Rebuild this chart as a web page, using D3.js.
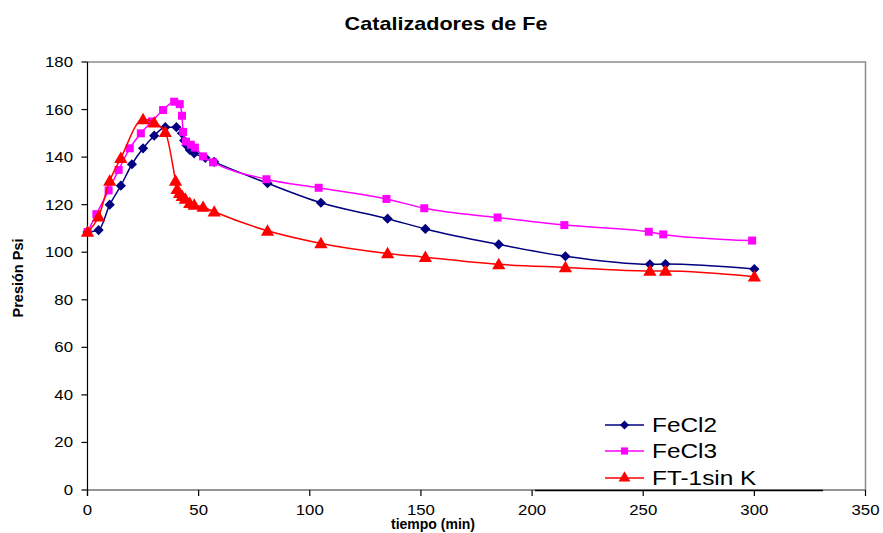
<!DOCTYPE html>
<html>
<head>
<meta charset="utf-8">
<script src="https://cdn.jsdelivr.net/npm/d3@7"></script>
<style>
  html, body { margin: 0; padding: 0; background: #fff; }
  svg { display: block; font-family: Arial, "Liberation Sans", sans-serif; }
</style>
</head>
<body>
<svg id="chart" width="883" height="533"></svg>
<script>
// Pressure (psi) over time (min) for three Fe catalysts
const seriesNames = ["FeCl2", "FeCl3", "FT-1sin K"];

const fecl2Time  = [0, 5, 10, 15, 20, 25, 30, 35, 40, 42.5, 43.5, 44.5, 46, 48, 53, 57, 81, 105, 135, 152, 185, 215, 253, 260, 300];
const fecl2Pres  = [108.5, 109.3, 120, 128, 137, 143.7, 149, 152.6, 152.6, 150, 147, 145, 143, 141.6, 139.7, 138, 129, 120.8, 114.1, 109.8, 103.3, 98.3, 94.9, 95, 92.9];

const fecl3Time  = [0, 4, 9.5, 14, 19, 24, 29, 34, 39, 41.5, 42.5, 43, 44.3, 46.5, 48.3, 52, 56.5, 80.5, 104, 134.5, 151.5, 184.5, 214.5, 252.5, 259, 299];
const fecl3Pres  = [108.5, 116, 126, 134.6, 143.7, 150, 155, 159.8, 163.3, 162.3, 157.4, 150.6, 146.5, 145.2, 144, 140.3, 137.8, 130.7, 127.1, 122.4, 118.5, 114.6, 111.4, 108.6, 107.5, 104.9];

const ft1Time    = [0, 5, 10, 15, 25, 30, 35, 39.6, 40.3, 41.4, 42.6, 44, 46, 48, 52, 57, 81, 105, 135, 152, 185, 215, 253, 260, 300];
const ft1Pres    = [108.5, 115, 130, 139.6, 155.9, 154.5, 150.5, 130, 126.5, 124.8, 123.6, 122.4, 120.6, 119.9, 119, 117, 109, 103.7, 99.5, 97.9, 94.9, 93.6, 92.1, 92.1, 89.7];

const xTicks = [0, 50, 100, 150, 200, 250, 300, 350];
const yTicks = [0, 20, 40, 60, 80, 100, 120, 140, 160, 180];

const colors  = ["#000080", "#ff00ff", "#ff0000"];
const symbols = [d3.symbolDiamond2, d3.symbolSquare, d3.symbolTriangle];
const symSize = [66, 64, 76];

const series = [
  fecl2Time.map((t, i) => ({ t, p: fecl2Pres[i] })),
  fecl3Time.map((t, i) => ({ t, p: fecl3Pres[i] })),
  ft1Time.map((t, i) => ({ t, p: ft1Pres[i] }))
];

const svg = d3.select("#chart");
const plot = { left: 87.5, right: 865.5, top: 62, bottom: 490 };

const x = d3.scaleLinear().domain([0, 350]).range([plot.left, plot.right]);
const y = d3.scaleLinear().domain([0, 180]).range([plot.bottom, plot.top]);

// Place text with a slight horizontal stretch
function placeText(sel, px, py, sx) {
  sel.attr("x", 0).attr("y", 0)
     .attr("transform", `translate(${px},${py}) scale(${sx},1)`);
  return sel;
}

// Plot area frame (top and right edges)
svg.append("path")
  .attr("d", `M${plot.left},${plot.top}H${plot.right}V${plot.bottom}`)
  .attr("fill", "none").attr("stroke", "#8c8c8c").attr("stroke-width", 1.5);

// Title
placeText(svg.append("text"), 446, 30, 1.2)
  .attr("text-anchor", "middle").attr("font-weight", "bold")
  .attr("font-size", 18).text("Catalizadores de Fe");

// X axis
const gx = svg.append("g").attr("transform", `translate(0,${plot.bottom})`);
gx.append("line").attr("x1", plot.left).attr("x2", plot.right)
  .attr("stroke", "#707070").attr("stroke-width", 1.5);
gx.selectAll("line.tick").data(xTicks).join("line").attr("class", "tick")
  .attr("x1", d => x(d)).attr("x2", d => x(d)).attr("y1", 0).attr("y2", 6)
  .attr("stroke", "#000").attr("stroke-width", 1.2);
gx.selectAll("text").data(xTicks).join("text")
  .each(function (d) { placeText(d3.select(this), x(d), 25, 1.2); })
  .attr("text-anchor", "middle").attr("font-size", 14).text(d => d);

// Y axis
const gy = svg.append("g");
gy.append("line").attr("x1", plot.left).attr("x2", plot.left)
  .attr("y1", plot.top).attr("y2", plot.bottom + 6)
  .attr("stroke", "#000").attr("stroke-width", 1.2);
gy.selectAll("line.tick").data(yTicks).join("line").attr("class", "tick")
  .attr("x1", plot.left - 6).attr("x2", plot.left).attr("y1", d => y(d)).attr("y2", d => y(d))
  .attr("stroke", "#000").attr("stroke-width", 1.2);
gy.selectAll("text").data(yTicks).join("text")
  .each(function (d) { placeText(d3.select(this), 73, y(d) + 5, 1.2); })
  .attr("text-anchor", "end").attr("font-size", 14).text(d => d);

// Axis titles
svg.append("text").attr("x", 433).attr("y", 529)
  .attr("text-anchor", "middle").attr("font-weight", "bold")
  .attr("font-size", 14).text("tiempo (min)");
svg.append("text")
  .attr("transform", `translate(23,${278}) rotate(-90)`)
  .attr("text-anchor", "middle").attr("font-weight", "bold")
  .attr("font-size", 14.5).text("Presión Psi");

// Series lines and markers
const line = d3.line().x(d => x(d.t)).y(d => y(d.p)).curve(d3.curveMonotoneX);
series.forEach((data, i) => {
  const g = svg.append("g");
  g.append("path").datum(data).attr("d", line)
    .attr("fill", "none").attr("stroke", colors[i]).attr("stroke-width", 1.5);
  g.selectAll("path.mark").data(data).join("path").attr("class", "mark")
    .attr("d", d3.symbol(symbols[i], symSize[i]))
    .attr("transform", d => `translate(${x(d.t)},${y(d.p) + (i === 2 ? 1 : 0)})`)
    .attr("fill", colors[i]);
});

// Legend
const legendRows = [425, 451, 478];
const lg = svg.append("g");
seriesNames.forEach((name, i) => {
  lg.append("line").attr("x1", 605).attr("x2", 644)
    .attr("y1", legendRows[i]).attr("y2", legendRows[i])
    .attr("stroke", colors[i]).attr("stroke-width", 1.5);
  lg.append("path").attr("d", d3.symbol(symbols[i], symSize[i] * 0.8))
    .attr("transform", `translate(624.5,${legendRows[i]})`).attr("fill", colors[i]);
  placeText(lg.append("text"), 652, legendRows[i] + 7, 1.22)
    .attr("font-size", 20).text(name);
});
lg.append("line").attr("x1", 535).attr("x2", 823).attr("y1", 490.5).attr("y2", 490.5)
  .attr("stroke", "#000").attr("stroke-width", 1.5);
</script>
</body>
</html>
